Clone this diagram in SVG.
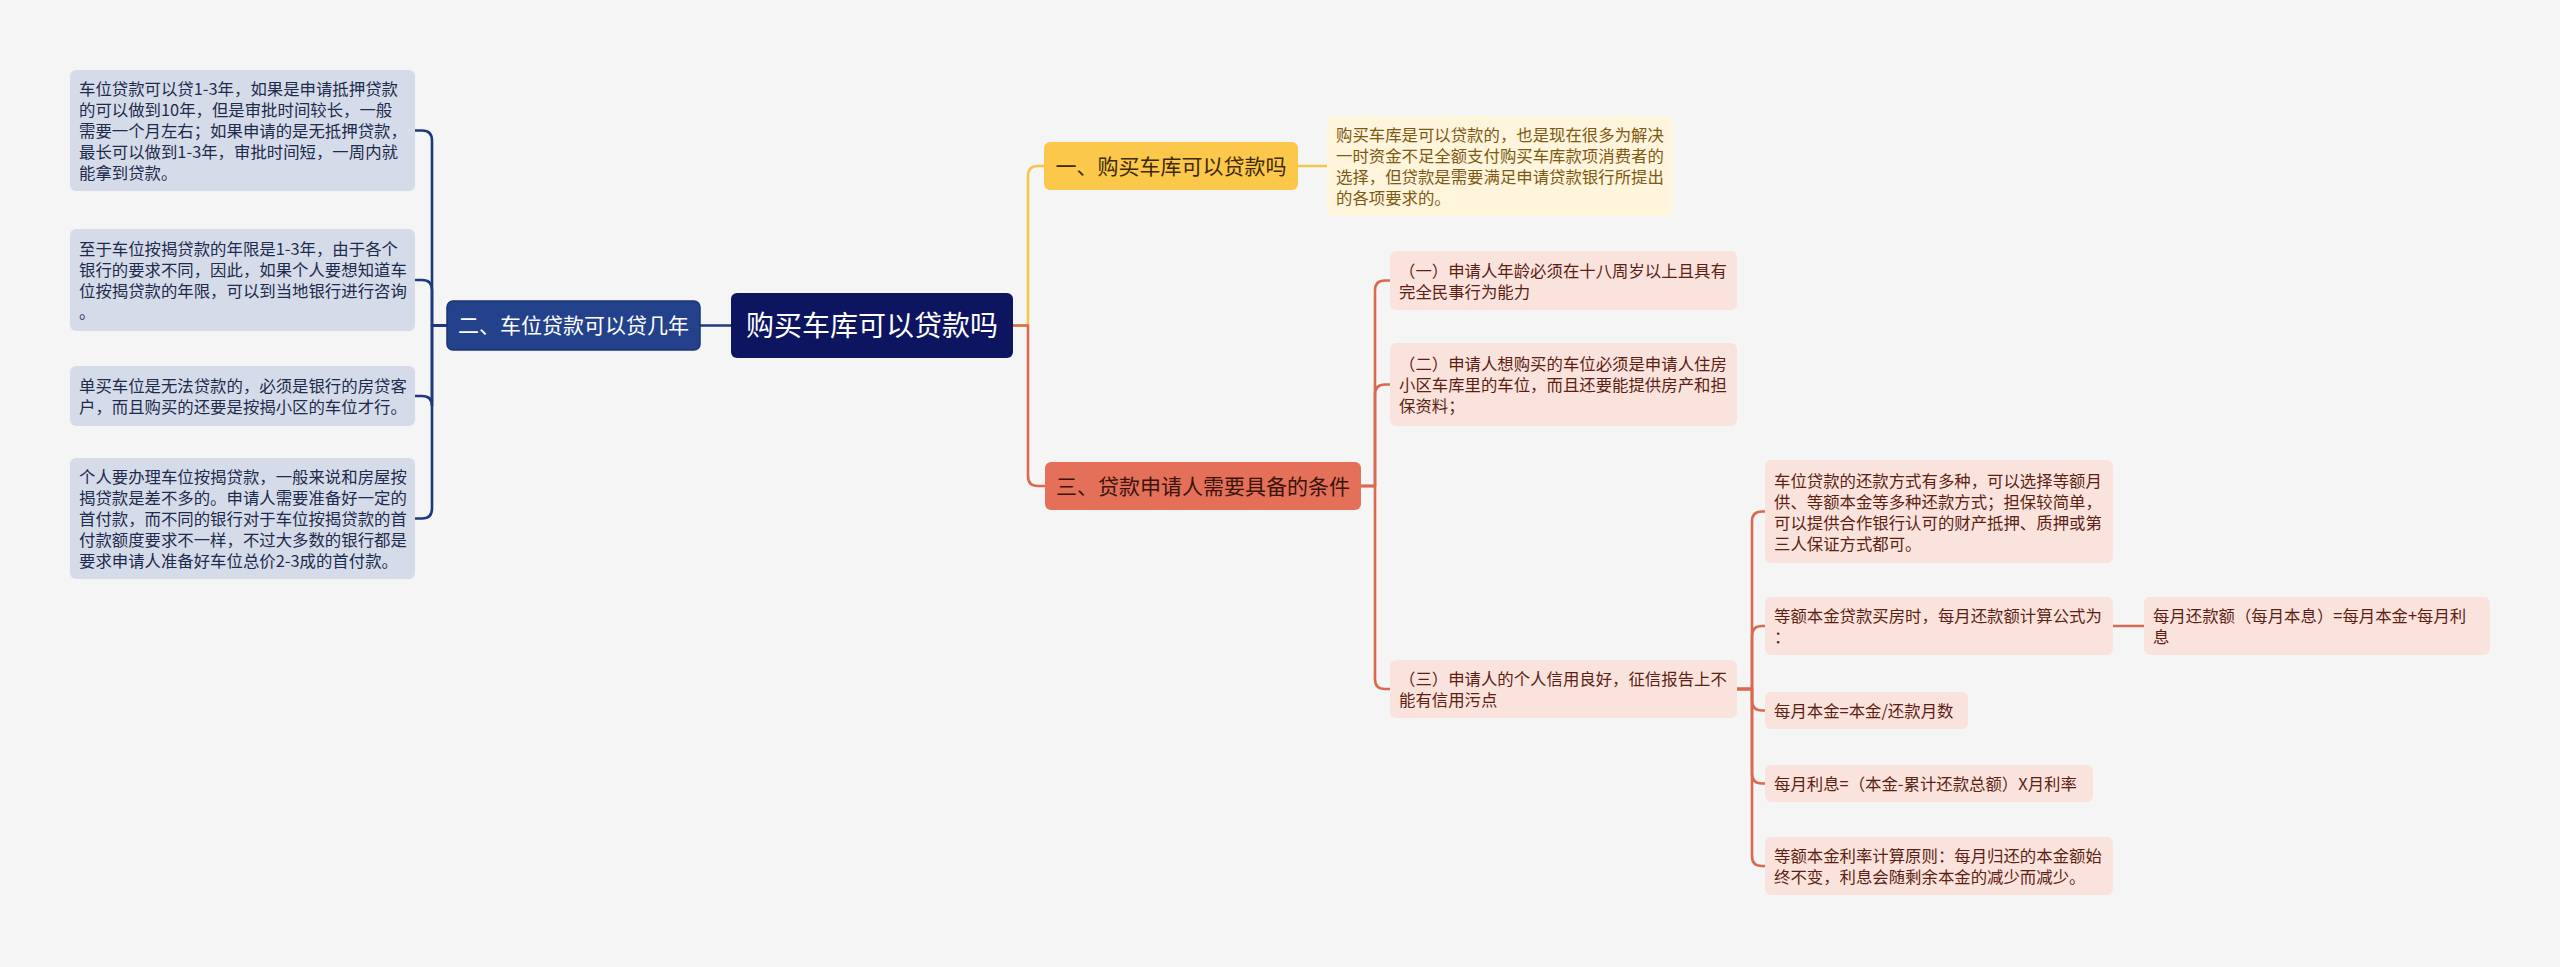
<svg xmlns="http://www.w3.org/2000/svg" width="2560" height="967" viewBox="0 0 2560 967">
<style>
text{font-family:"Noto Sans CJK SC","Noto Sans",sans-serif;}
.sm{font-size:16.4px;}
.lb{fill:#d6dbe9;}
.lt{fill:#1d2b4d;}
.pb{fill:#fbe3dd;}
.pt{fill:#5c1f14;}
.yb{fill:#fff4dc;}
.yt{fill:#7d5a12;}
.cn{fill:none;stroke-width:2.6;stroke-linecap:round;stroke-linejoin:round;}
.nv{stroke:#1e3a7f;}
.yl{stroke:#f6c54e;}
.rd{stroke:#d9694f;}
</style>
<rect x="0" y="0" width="2560" height="967" fill="#f5f5f5"/>
<g id="connectors">
<path class="cn nv" d="M731,325.5 H700"/>
<path class="cn nv" d="M447,325.5 H432 V140.5 Q432,130.5 422,130.5 H415"/>
<path class="cn nv" d="M447,325.5 H432 V290 Q432,280 422,280 H415"/>
<path class="cn nv" d="M447,325.5 H432 V406 Q432,396 422,396 H415"/>
<path class="cn nv" d="M447,325.5 H432 V508.5 Q432,518.5 422,518.5 H415"/>
<path class="cn yl" d="M1013,325.5 H1028 V176 Q1028,166 1038,166 H1044"/>
<path class="cn rd" d="M1013,325.5 H1028 V476 Q1028,486 1038,486 H1045"/>
<path class="cn yl" d="M1298,166 H1327"/>
<path class="cn rd" d="M1361,486 H1375 V290.5 Q1375,280.5 1385,280.5 H1390"/>
<path class="cn rd" d="M1361,486 H1375 V394.5 Q1375,384.5 1385,384.5 H1390"/>
<path class="cn rd" d="M1361,486 H1375 V679 Q1375,689 1385,689 H1390"/>
<path class="cn rd" d="M1737,689 H1752 V521.5 Q1752,511.5 1762,511.5 H1765"/>
<path class="cn rd" d="M1737,689 H1752 V636 Q1752,626 1762,626 H1765"/>
<path class="cn rd" d="M1737,689 H1752 V700.5 Q1752,710.5 1762,710.5 H1765"/>
<path class="cn rd" d="M1737,689 H1752 V773.5 Q1752,783.5 1762,783.5 H1765"/>
<path class="cn rd" d="M1737,689 H1752 V856 Q1752,866 1762,866 H1765"/>
<path class="cn rd" d="M2113,626 H2144"/>
</g>
<g id="root">
<rect x="731" y="293" width="282" height="65" rx="6" fill="#0d1460"/>
<text x="872" y="335.5" font-size="28" fill="#ffffff" text-anchor="middle">购买车库可以贷款吗</text>
</g>
<g id="n2">
<rect x="447" y="301" width="253" height="49" rx="6" fill="#23428b" stroke="#1a3575" stroke-width="1.5"/>
<text x="573.5" y="333" font-size="21" fill="#ffffff" text-anchor="middle">二、车位贷款可以贷几年</text>
</g>
<g id="n2a">
<rect class="lb" x="70" y="70" width="345" height="121" rx="6"/>
<text class="sm lt"><tspan x="79" y="95.2">车位贷款可以贷1-3年，如果是申请抵押贷款</tspan><tspan x="79" y="116.2">的可以做到10年，但是审批时间较长，一般</tspan><tspan x="79" y="137.2">需要一个月左右；如果申请的是无抵押贷款，</tspan><tspan x="79" y="158.2">最长可以做到1-3年，审批时间短，一周内就</tspan><tspan x="79" y="179.2">能拿到贷款。</tspan></text>
</g>
<g id="n2b">
<rect class="lb" x="70" y="229" width="345" height="102" rx="6"/>
<text class="sm lt"><tspan x="79" y="255.2">至于车位按揭贷款的年限是1-3年，由于各个</tspan><tspan x="79" y="276.2">银行的要求不同，因此，如果个人要想知道车</tspan><tspan x="79" y="297.2">位按揭贷款的年限，可以到当地银行进行咨询</tspan><tspan x="79" y="318.2">。</tspan></text>
</g>
<g id="n2c">
<rect class="lb" x="70" y="366" width="345" height="60" rx="6"/>
<text class="sm lt"><tspan x="79" y="392.2">单买车位是无法贷款的，必须是银行的房贷客</tspan><tspan x="79" y="413.2">户，而且购买的还要是按揭小区的车位才行。</tspan></text>
</g>
<g id="n2d">
<rect class="lb" x="70" y="458" width="345" height="121" rx="6"/>
<text class="sm lt"><tspan x="79" y="483.2">个人要办理车位按揭贷款，一般来说和房屋按</tspan><tspan x="79" y="504.2">揭贷款是差不多的。申请人需要准备好一定的</tspan><tspan x="79" y="525.2">首付款，而不同的银行对于车位按揭贷款的首</tspan><tspan x="79" y="546.2">付款额度要求不一样，不过大多数的银行都是</tspan><tspan x="79" y="567.2">要求申请人准备好车位总价2-3成的首付款。</tspan></text>
</g>
<g id="n1">
<rect x="1044" y="142" width="254" height="48" rx="6" fill="#fcc84b"/>
<text x="1171" y="173.5" font-size="21" fill="#3b2a05" text-anchor="middle">一、购买车库可以贷款吗</text>
</g>
<g id="n1a">
<rect class="yb" x="1327" y="116" width="346" height="100" rx="6"/>
<text class="sm yt"><tspan x="1336" y="141.2">购买车库是可以贷款的，也是现在很多为解决</tspan><tspan x="1336" y="162.2">一时资金不足全额支付购买车库款项消费者的</tspan><tspan x="1336" y="183.2">选择，但贷款是需要满足申请贷款银行所提出</tspan><tspan x="1336" y="204.2">的各项要求的。</tspan></text>
</g>
<g id="n3">
<rect x="1045" y="462" width="316" height="48" rx="6" fill="#e4705a"/>
<text x="1203" y="493.5" font-size="21" fill="#3a1309" text-anchor="middle">三、贷款申请人需要具备的条件</text>
</g>
<g id="n3a">
<rect class="pb" x="1390" y="251" width="347" height="59" rx="6"/>
<text class="sm pt"><tspan x="1399" y="276.7">（一）申请人年龄必须在十八周岁以上且具有</tspan><tspan x="1399" y="297.7">完全民事行为能力</tspan></text>
</g>
<g id="n3b">
<rect class="pb" x="1390" y="343" width="347" height="83" rx="6"/>
<text class="sm pt"><tspan x="1399" y="370.2">（二）申请人想购买的车位必须是申请人住房</tspan><tspan x="1399" y="391.2">小区车库里的车位，而且还要能提供房产和担</tspan><tspan x="1399" y="412.2">保资料；</tspan></text>
</g>
<g id="n3c">
<rect class="pb" x="1390" y="660" width="347" height="58" rx="6"/>
<text class="sm pt"><tspan x="1399" y="685.2">（三）申请人的个人信用良好，征信报告上不</tspan><tspan x="1399" y="706.2">能有信用污点</tspan></text>
</g>
<g id="n3c1">
<rect class="pb" x="1765" y="460" width="348" height="103" rx="6"/>
<text class="sm pt"><tspan x="1774" y="486.7">车位贷款的还款方式有多种，可以选择等额月</tspan><tspan x="1774" y="507.7">供、等额本金等多种还款方式；担保较简单，</tspan><tspan x="1774" y="528.7">可以提供合作银行认可的财产抵押、质押或第</tspan><tspan x="1774" y="549.7">三人保证方式都可。</tspan></text>
</g>
<g id="n3c2">
<rect class="pb" x="1765" y="597" width="348" height="58" rx="6"/>
<text class="sm pt"><tspan x="1774" y="622.2">等额本金贷款买房时，每月还款额计算公式为</tspan><tspan x="1774" y="643.2">：</tspan></text>
</g>
<g id="n3c2a">
<rect class="pb" x="2144" y="597" width="346" height="58" rx="6"/>
<text class="sm pt"><tspan x="2153" y="622.2">每月还款额（每月本息）=每月本金+每月利</tspan><tspan x="2153" y="643.2">息</tspan></text>
</g>
<g id="n3c3">
<rect class="pb" x="1765" y="692" width="203" height="37" rx="6"/>
<text class="sm pt" x="1774" y="717.2">每月本金=本金/还款月数</text>
</g>
<g id="n3c4">
<rect class="pb" x="1765" y="765" width="328" height="37" rx="6"/>
<text class="sm pt" x="1774" y="790.2">每月利息=（本金-累计还款总额）X月利率</text>
</g>
<g id="n3c5">
<rect class="pb" x="1765" y="837" width="348" height="58" rx="6"/>
<text class="sm pt"><tspan x="1774" y="862.2">等额本金利率计算原则：每月归还的本金额始</tspan><tspan x="1774" y="883.2">终不变，利息会随剩余本金的减少而减少。</tspan></text>
</g>
</svg>
